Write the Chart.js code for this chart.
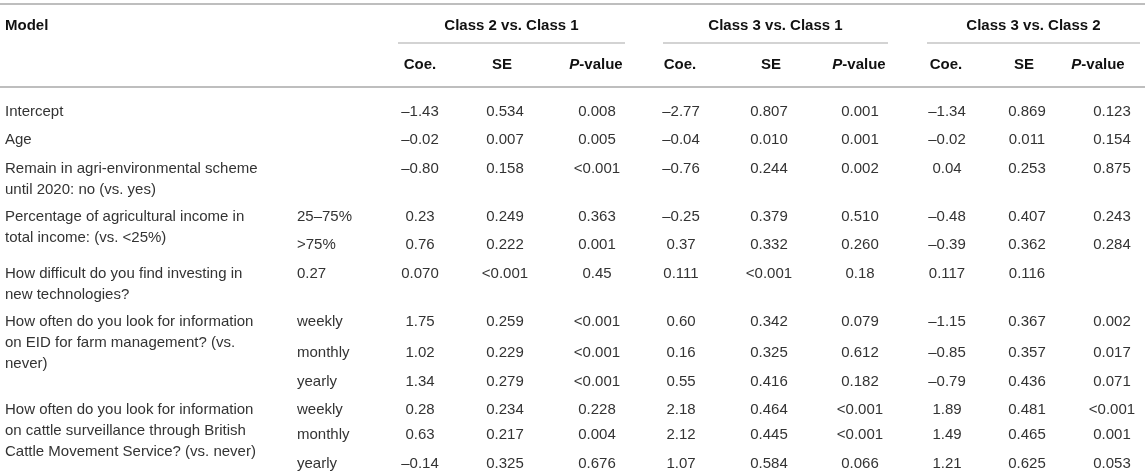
<!DOCTYPE html>
<html>
<head>
<meta charset="utf-8">
<script src="https://cdn.jsdelivr.net/npm/chart.js@4/dist/chart.umd.min.js"></script>
<style>
  html, body { margin: 0; padding: 0; background: #fff; }
  #wrap { width: 1145px; height: 473px; position: relative; }
</style>
</head>
<body>
<div id="wrap"><canvas id="tbl"></canvas></div>
<script>
/* Multinomial model table, drawn as text cells on a Chart.js scatter */
const groups = ['Class 2 vs. Class 1', 'Class 3 vs. Class 1', 'Class 3 vs. Class 2'];
const statNames = ['Coe.', 'SE', 'P-value'];

const variables = [
  ['Intercept'],
  ['Age'],
  ['Remain in agri-environmental scheme', 'until 2020: no (vs. yes)'],
  ['Percentage of agricultural income in', 'total income: (vs. <25%)'],
  ['How difficult do you find investing in', 'new technologies?'],
  ['How often do you look for information', 'on EID for farm management? (vs.', 'never)'],
  ['How often do you look for information', 'on cattle surveillance through British', 'Cattle Movement Service? (vs. never)'],
];
// first value row of each variable
const variableRow = [0, 1, 2, 3, 5, 6, 9];

const levels = ['', '', '', '25–75%', '>75%', '0.27', 'weekly', 'monthly', 'yearly', 'weekly', 'monthly', 'yearly'];

const coe21 = ['–1.43', '–0.02', '–0.80', '0.23', '0.76', '0.070', '1.75', '1.02', '1.34', '0.28', '0.63', '–0.14'];
const se21  = ['0.534', '0.007', '0.158', '0.249', '0.222', '<0.001', '0.259', '0.229', '0.279', '0.234', '0.217', '0.325'];
const p21   = ['0.008', '0.005', '<0.001', '0.363', '0.001', '0.45', '<0.001', '<0.001', '<0.001', '0.228', '0.004', '0.676'];
const coe31 = ['–2.77', '–0.04', '–0.76', '–0.25', '0.37', '0.111', '0.60', '0.16', '0.55', '2.18', '2.12', '1.07'];
const se31  = ['0.807', '0.010', '0.244', '0.379', '0.332', '<0.001', '0.342', '0.325', '0.416', '0.464', '0.445', '0.584'];
const p31   = ['0.001', '0.001', '0.002', '0.510', '0.260', '0.18', '0.079', '0.612', '0.182', '<0.001', '<0.001', '0.066'];
const coe32 = ['–1.34', '–0.02', '0.04', '–0.48', '–0.39', '0.117', '–1.15', '–0.85', '–0.79', '1.89', '1.49', '1.21'];
const se32  = ['0.869', '0.011', '0.253', '0.407', '0.362', '0.116', '0.367', '0.357', '0.436', '0.481', '0.465', '0.625'];
const p32   = ['0.123', '0.154', '0.875', '0.243', '0.284', '', '0.002', '0.017', '0.071', '<0.001', '0.001', '0.053'];

const columns = [levels, coe21, se21, p21, coe31, se31, p31, coe32, se32, p32];

// layout (pixel units on the linear scales)
const W = 1145, H = 473;
const colX = [297, 420, 505, 597, 681, 769, 860, 947, 1027, 1112];
const colAlign = ['left', 'center', 'center', 'center', 'center', 'center', 'center', 'center', 'center', 'center'];
const headX = [420, 502, 596, 680, 771, 859, 946, 1024, 1098];
const groupSpan = [[398, 625], [663, 888], [927, 1140]];
const rowY = [110, 138, 167, 215, 243, 272, 320, 351, 380, 408, 433, 462];
const lineStep = 21;
const dy = 1.5; // canvas 'middle' sits a touch high
const FONT = '"Liberation Sans", Arial, Helvetica, sans-serif';
const SIZE = 15;

const tablePlugin = {
  id: 'tableText',
  afterDatasetsDraw(chart) {
    const { ctx, scales: { x, y } } = chart;
    const bold = `bold ${SIZE}px ${FONT}`;
    const boldItalic = `italic bold ${SIZE}px ${FONT}`;
    const plain = `${SIZE}px ${FONT}`;
    ctx.save();
    // rules
    ctx.strokeStyle = '#a8a8a8';
    ctx.lineWidth = 1.5;
    [4, 87].forEach((v) => {
      ctx.beginPath();
      ctx.moveTo(x.getPixelForValue(0), y.getPixelForValue(v));
      ctx.lineTo(x.getPixelForValue(W), y.getPixelForValue(v));
      ctx.stroke();
    });
    ctx.strokeStyle = '#c4c4c4';
    groupSpan.forEach(([a, b]) => {
      ctx.beginPath();
      ctx.moveTo(x.getPixelForValue(a), y.getPixelForValue(43));
      ctx.lineTo(x.getPixelForValue(b), y.getPixelForValue(43));
      ctx.stroke();
    });

    // headers
    ctx.fillStyle = '#111';
    ctx.textBaseline = 'middle';
    ctx.font = bold;
    ctx.textAlign = 'left';
    ctx.fillText('Model', x.getPixelForValue(5), y.getPixelForValue(24 + dy));
    ctx.textAlign = 'center';
    groups.forEach((g, i) => {
      const [a, b] = groupSpan[i];
      ctx.fillText(g, x.getPixelForValue((a + b) / 2), y.getPixelForValue(24 + dy));
    });
    headX.forEach((hx, i) => {
      const name = statNames[i % 3];
      const px = x.getPixelForValue(hx), py = y.getPixelForValue(63 + dy);
      if (name === 'P-value') {
        ctx.font = boldItalic;
        const wP = ctx.measureText('P').width;
        ctx.font = bold;
        const wR = ctx.measureText('-value').width;
        const left = px - (wP + wR) / 2;
        ctx.textAlign = 'left';
        ctx.font = boldItalic;
        ctx.fillText('P', left, py);
        ctx.font = bold;
        ctx.fillText('-value', left + wP, py);
        ctx.textAlign = 'center';
      } else {
        ctx.fillText(name, px, py);
      }
    });

    // variable labels
    ctx.fillStyle = '#333';
    ctx.font = plain;
    ctx.textAlign = 'left';
    variables.forEach((lines, i) => {
      const y0 = rowY[variableRow[i]] + dy;
      lines.forEach((ln, k) => {
        ctx.fillText(ln, x.getPixelForValue(5), y.getPixelForValue(y0 + k * lineStep));
      });
    });

    // cells, placed at each point the scatter put on the scales
    chart.data.datasets.forEach((ds, di) => {
      const meta = chart.getDatasetMeta(di);
      ctx.textAlign = colAlign[di];
      meta.data.forEach((pt, i) => {
        const txt = ds.data[i].t;
        if (txt) ctx.fillText(txt, pt.x, pt.y + dy);
      });
    });
    ctx.restore();
  },
};

new Chart(document.getElementById('tbl'), {
  type: 'scatter',
  data: {
    datasets: columns.map((col, c) => ({
      data: col.map((t, r) => ({ x: colX[c], y: rowY[r], t })),
      pointRadius: 0,
      pointHoverRadius: 0,
    })),
  },
  options: {
    responsive: true,
    maintainAspectRatio: false,
    animation: false,
    layout: { padding: 0 },
    plugins: { legend: { display: false }, tooltip: { enabled: false } },
    scales: {
      x: { type: 'linear', display: false, min: 0, max: W },
      y: { type: 'linear', display: false, min: 0, max: H, reverse: true },
    },
  },
  plugins: [tablePlugin],
});
</script>
</body>
</html>
